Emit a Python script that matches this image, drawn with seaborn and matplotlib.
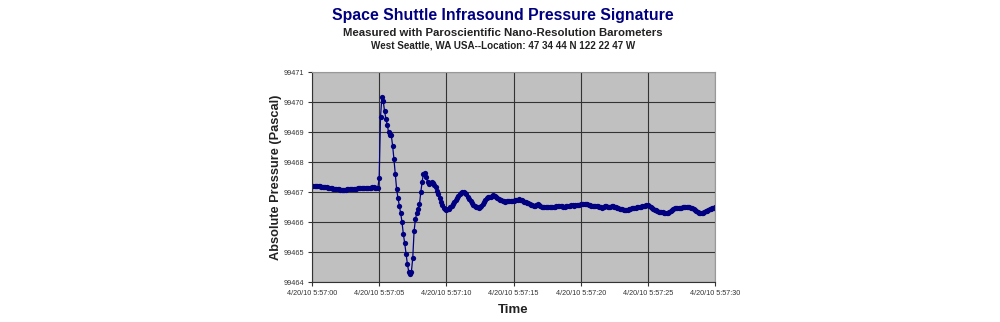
import numpy as np
import pandas as pd
import matplotlib
matplotlib.use("Agg")
import matplotlib.pyplot as plt
import seaborn as sns

# ---- data (seconds after 4/20/10 5:57:00, 0.1 s sampling) ----
base = 99467.0
offsets = [
    # 0 s
    0.21, 0.21, 0.21, 0.20, 0.20, 0.19, 0.19, 0.18, 0.18, 0.17,
    0.17, 0.16, 0.15, 0.14, 0.13, 0.12, 0.11, 0.10, 0.10, 0.09,
    0.09, 0.08, 0.08, 0.08, 0.08, 0.08, 0.09, 0.09, 0.09, 0.09,
    0.10, 0.10, 0.11, 0.11, 0.12, 0.12, 0.13, 0.13, 0.14, 0.14,
    0.14, 0.15, 0.15, 0.15, 0.15, 0.16, 0.16, 0.15, 0.15, 0.14,
    # 5 s
    0.46, 2.50, 3.16, 3.05, 2.70, 2.45, 2.25, 2.00, 1.92, 1.90,
    1.55, 1.10, 0.60, 0.10, -0.20, -0.45, -0.70, -1.00, -1.40, -1.70,
    -2.05, -2.40, -2.65, -2.72, -2.65, -2.20, -1.30, -0.90, -0.70, -0.58,
    -0.40, 0.00, 0.35, 0.62, 0.64, 0.50, 0.35, 0.27, 0.29, 0.32,
    0.30, 0.25, 0.17, 0.05, -0.07, -0.20, -0.33, -0.44, -0.52, -0.58,
    # 10 s
    -0.60, -0.58, -0.55, -0.51, -0.46, -0.40, -0.34, -0.28, -0.20, -0.13,
    -0.06, -0.03, -0.01, -0.01, -0.04, -0.08, -0.17, -0.24, -0.30, -0.36,
    -0.42, -0.46, -0.49, -0.51, -0.52, -0.51, -0.48, -0.40, -0.33, -0.28,
    -0.21, -0.18, -0.16, -0.15, -0.13, -0.10, -0.12, -0.17, -0.20, -0.23,
    -0.26, -0.28, -0.30, -0.31, -0.32, -0.31, -0.30, -0.29, -0.29, -0.29,
    # 15 s
    -0.29, -0.28, -0.27, -0.26, -0.24, -0.25, -0.27, -0.29, -0.32, -0.34,
    -0.36, -0.38, -0.40, -0.42, -0.44, -0.46, -0.45, -0.43, -0.41, -0.43,
    -0.47, -0.49, -0.50, -0.51, -0.51, -0.51, -0.51, -0.50, -0.50, -0.50,
    -0.49, -0.49, -0.48, -0.47, -0.47, -0.48, -0.48, -0.49, -0.49, -0.48,
    -0.47, -0.46, -0.45, -0.43, -0.44, -0.45, -0.44, -0.43, -0.42, -0.42,
    # 20 s
    -0.41, -0.41, -0.41, -0.41, -0.41, -0.41, -0.42, -0.43, -0.45, -0.46,
    -0.46, -0.46, -0.47, -0.48, -0.49, -0.50, -0.52, -0.50, -0.47, -0.48,
    -0.50, -0.51, -0.50, -0.48, -0.47, -0.49, -0.51, -0.52, -0.53, -0.55,
    -0.57, -0.58, -0.59, -0.60, -0.60, -0.59, -0.57, -0.55, -0.54, -0.53,
    -0.52, -0.52, -0.51, -0.50, -0.49, -0.49, -0.48, -0.46, -0.45, -0.44,
    # 25 s
    -0.43, -0.45, -0.49, -0.53, -0.56, -0.59, -0.61, -0.63, -0.65, -0.66,
    -0.67, -0.68, -0.69, -0.71, -0.71, -0.69, -0.66, -0.63, -0.59, -0.56,
    -0.54, -0.53, -0.53, -0.52, -0.52, -0.52, -0.51, -0.51, -0.50, -0.50,
    -0.50, -0.51, -0.52, -0.54, -0.57, -0.60, -0.63, -0.66, -0.69, -0.70,
    -0.71, -0.69, -0.67, -0.64, -0.62, -0.60, -0.58, -0.56, -0.54, -0.52,
    # 30 s
    -0.50,
]
pressure = [round(base + o, 2) for o in offsets]
seconds = [round(i * 0.1, 1) for i in range(len(pressure))]

x_tick_seconds = [0, 5, 10, 15, 20, 25, 30]
x_tick_labels = ["4/20/10 5:57:00", "4/20/10 5:57:05", "4/20/10 5:57:10",
                 "4/20/10 5:57:15", "4/20/10 5:57:20", "4/20/10 5:57:25",
                 "4/20/10 5:57:30"]
y_ticks = [99464, 99465, 99466, 99467, 99468, 99469, 99470, 99471]

title = "Space Shuttle Infrasound Pressure Signature"
subtitle1 = "Measured with Paroscientific Nano-Resolution Barometers"
subtitle2 = "West Seattle, WA USA--Location: 47 34 44 N 122 22 47 W"

df = pd.DataFrame({"Time": seconds, "Pressure": pressure})

sns.set_theme(style="white")
plt.rcParams["font.family"] = ["Liberation Sans", "DejaVu Sans"]

fig = plt.figure(figsize=(10, 3.22), dpi=100)
ax = fig.add_axes([0.312, 0.124, 0.403, 0.652])
ax.set_facecolor("#c0c0c0")

sns.lineplot(data=df, x="Time", y="Pressure", ax=ax, color="#000080",
             linewidth=0.9, marker="o", markersize=3.8,
             markeredgewidth=0, markerfacecolor="#000080")

ax.set_xlim(0, 30)
ax.set_ylim(99464, 99471)
ax.set_xticks(x_tick_seconds)
ax.set_xticklabels(x_tick_labels)
ax.set_yticks(y_ticks)
ax.set_yticklabels([str(v) for v in y_ticks])
ax.grid(True, color="#333333", linewidth=0.8)
ax.set_axisbelow(True)
for s in ["top", "right"]:
    ax.spines[s].set_visible(True)
    ax.spines[s].set_color("#999999")
    ax.spines[s].set_linewidth(0.8)
for s in ["left", "bottom"]:
    ax.spines[s].set_color("#333333")
    ax.spines[s].set_linewidth(0.8)
ax.tick_params(axis="both", which="both", direction="out", length=3,
               width=0.8, color="#333333", labelsize=5.2, labelcolor="#333333",
               pad=2.5, bottom=True, left=True)

ax.set_xlabel("Time", fontsize=9.5, fontweight="bold", color="#222222", labelpad=5)
ax.set_ylabel("Absolute Pressure (Pascal)", fontsize=9.2, fontweight="bold",
              color="#222222", labelpad=1)

fig.text(0.503, 0.952, title, ha="center", va="center", fontsize=11.4,
         fontweight="bold", color="#000080")
fig.text(0.503, 0.898, subtitle1, ha="center", va="center", fontsize=8.2,
         fontweight="bold", color="#222222")
fig.text(0.503, 0.858, subtitle2, ha="center", va="center", fontsize=7.15,
         fontweight="bold", color="#222222")

fig.savefig("out.png", dpi=100, facecolor="white")
